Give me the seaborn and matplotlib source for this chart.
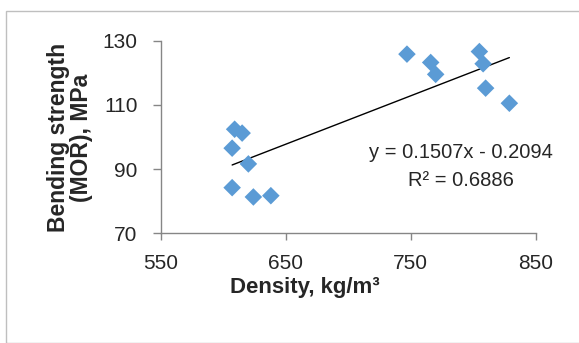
import seaborn as sns
import matplotlib.pyplot as plt
from matplotlib.patches import Rectangle
import numpy as np
import pandas as pd

# values
density = [747, 766, 770, 805, 808, 810, 829, 609, 615, 607, 620, 607, 624, 638]
mor = [125.8, 123.2, 119.5, 126.6, 122.8, 115.2, 110.5, 102.4, 101.2, 96.5, 91.6, 84.2, 81.3, 81.7]
slope = 0.1507
intercept = -0.2094
r_squared = 0.6886
x_ticks = [550, 650, 750, 850]
y_ticks = [70, 90, 110, 130]

sns.set_style("white")
plt.rcParams['font.family'] = ['Liberation Sans', 'DejaVu Sans']

df = pd.DataFrame({"density": density, "mor": mor})

fig = plt.figure(figsize=(5.79, 3.43), dpi=100)
ax = fig.add_axes([0.278, 0.320, 0.647, 0.5615])

#outer chart border like the excel chart area
fig.patches.append(Rectangle((5.5/579, 0), 1, 1 - 10.7/343, transform=fig.transFigure,
                             fill=False, edgecolor='#bfbfbf', linewidth=1))

sns.scatterplot(data=df, x="density", y="mor", marker='D', s=80, color='#5b9bd5',
                edgecolor='none', ax=ax, zorder=3)

#linear trendline over the data range
xfit = np.array([min(density), max(density)])
ax.plot(xfit, slope * xfit + intercept, color='black', linewidth=1, zorder=2)

ax.text(790, 90.75, f"y = {slope}x - {abs(intercept)}\nR² = {r_squared}",
        ha='center', va='center', fontsize=14.5, linespacing=1.6)

ax.set_xlim(550, 850)
ax.set_ylim(70, 130)
ax.set_xticks(x_ticks)
ax.set_yticks(y_ticks)
ax.tick_params(axis='both', labelsize=15, width=1, color='#868686', direction='out',
               bottom=True, left=True)
ax.tick_params(axis='x', length=5, pad=10)
ax.tick_params(axis='y', length=5.8, pad=11)
for s in ['top', 'right']:
    ax.spines[s].set_visible(False)
for s in ['left', 'bottom']:
    ax.spines[s].set_color('#868686')
    ax.spines[s].set_linewidth(1)

ax.set_xlabel("Density, kg/m³", fontsize=16, fontweight='bold', va='top')
ax.xaxis.set_label_coords(0.384, -0.225)
ax.set_ylabel("Bending strength\n(MOR), MPa", fontsize=16.5, fontweight='bold',
              linespacing=1.0)
ax.yaxis.set_label_coords(-0.182, 0.497)

fig.savefig("out.png", dpi=100)
